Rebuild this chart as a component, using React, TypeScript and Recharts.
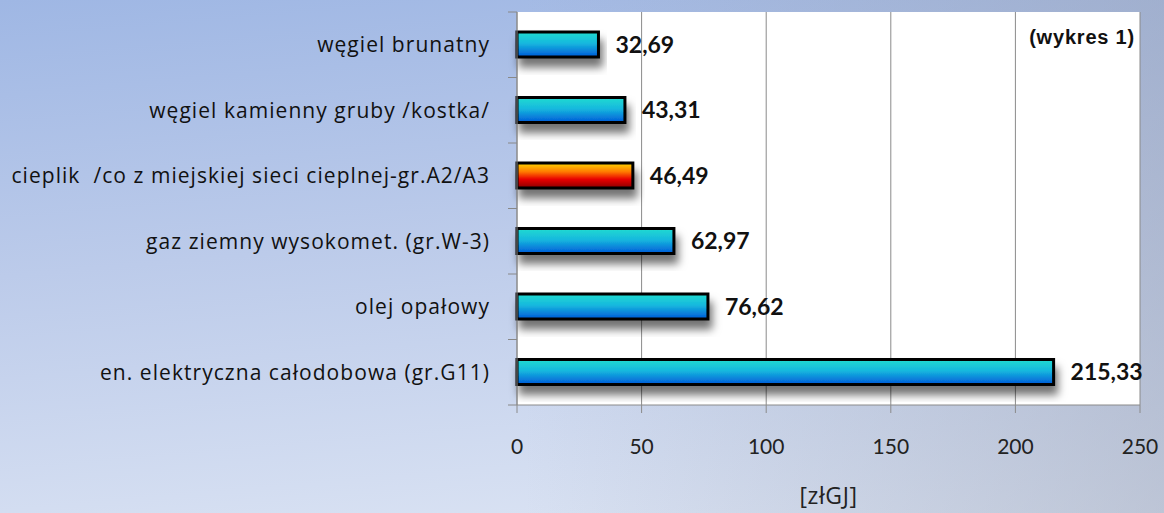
import { BarChart, Bar, XAxis, YAxis, CartesianGrid, Cell, LabelList } from "recharts";

const categories = [
  "węgiel brunatny",
  "węgiel kamienny gruby /kostka/",
  "cieplik  /co z miejskiej sieci cieplnej-gr.A2/A3",
  "gaz ziemny wysokomet. (gr.W-3)",
  "olej opałowy",
  "en. elektryczna całodobowa (gr.G11)",
];
const prices = [32.69, 43.31, 46.49, 62.97, 76.62, 215.33];
const highlighted = [false, false, true, false, false, false];
const xTicks = [0, 50, 100, 150, 200, 250];

const data = categories.map((name, i) => ({ name, value: prices[i], hot: highlighted[i] }));

const W = 1164;
const H = 513;
const TOP = 12;
const X_AXIS_H = 108;
const HALF_BAND = (H - TOP - X_AXIS_H) / categories.length / 2;

function CategoryTick({ x, y, payload, index }: any) {
  return (
    <g>
      <line x1={x + 18} x2={x + 27} y1={y - HALF_BAND} y2={y - HALF_BAND} stroke="#888" />
      {index === categories.length - 1 && (
        <line x1={x + 18} x2={x + 27} y1={y + HALF_BAND} y2={y + HALF_BAND} stroke="#888" />
      )}
      <text
        x={x}
        y={y}
        dy="0.35em"
        textAnchor="end"
        fill="#111"
        style={{ fontFamily: "Open Sans", fontSize: 21, letterSpacing: 1.05, whiteSpace: "pre" }}
      >
        {payload.value}
      </text>
    </g>
  );
}

export default function App() {
  return (
    <div
      style={{
        position: "absolute",
        left: 0,
        top: 0,
        width: W,
        height: H,
        background:
          "linear-gradient(to right, rgba(150,158,178,0) 45%, rgba(150,158,178,0.45) 100%), linear-gradient(175deg, #9fb7e4 0%, #bccbea 45%, #dde5f4 100%)",
      }}
    >
      <BarChart
        width={W}
        height={H}
        data={data}
        layout="vertical"
        margin={{ top: TOP, right: 24, bottom: 0, left: 0 }}
      >
        <defs>
          <linearGradient id="blueFill" x1="0" y1="0" x2="0" y2="1">
            <stop offset="0%" stopColor="#22dcd0" />
            <stop offset="45%" stopColor="#16b8de" />
            <stop offset="100%" stopColor="#0058d8" />
          </linearGradient>
          <linearGradient id="redFill" x1="0" y1="0" x2="0" y2="1">
            <stop offset="0%" stopColor="#ffd800" />
            <stop offset="35%" stopColor="#ff7a00" />
            <stop offset="65%" stopColor="#e80000" />
            <stop offset="100%" stopColor="#8a0000" />
          </linearGradient>
          <filter id="barShadow" x="-10%" y="-50%" width="120%" height="220%">
            <feDropShadow dx="3" dy="9" stdDeviation="4" floodColor="#000" floodOpacity="0.55" />
          </filter>
        </defs>
        <CartesianGrid horizontal={false} stroke="#8a8a8a" fill="#ffffff" />
        <XAxis
          type="number"
          domain={[0, 250]}
          ticks={xTicks}
          height={X_AXIS_H}
          tickSize={8}
          tickMargin={26}
          stroke="#8a8a8a"
          tick={{ fill: "#222", fontFamily: "Lato", fontSize: 21 }}
          label={{
            value: "[złGJ]",
            position: "insideBottom",
            offset: 9,
            fill: "#222",
            fontFamily: "Open Sans",
            fontSize: 23,
            letterSpacing: 0.6,
          }}
        />
        <YAxis
          type="category"
          dataKey="name"
          width={517}
          tickSize={0}
          tickMargin={27}
          stroke="#8a8a8a"
          tick={<CategoryTick />}
          interval={0}
        />
        <Bar dataKey="value" barSize={25} stroke="#000" strokeWidth={3} isAnimationActive={false}>
          {data.map((d, i) => (
            <Cell key={i} fill={d.hot ? "url(#redFill)" : "url(#blueFill)"} filter="url(#barShadow)" />
          ))}
          <LabelList
            dataKey="value"
            position="right"
            offset={17}
            formatter={(v: any) => Number(v).toFixed(2).replace(".", ",")}
            style={{ fill: "#111", fontFamily: "Lato", fontWeight: 700, fontSize: 23 }}
          />
        </Bar>
      </BarChart>
      <div
        style={{
          position: "absolute",
          right: 29,
          top: 26,
          fontFamily: "Liberation Sans",
          fontWeight: 700,
          fontSize: 20,
          letterSpacing: 0.8,
          color: "#111",
        }}
      >
        (wykres 1)
      </div>
    </div>
  );
}
